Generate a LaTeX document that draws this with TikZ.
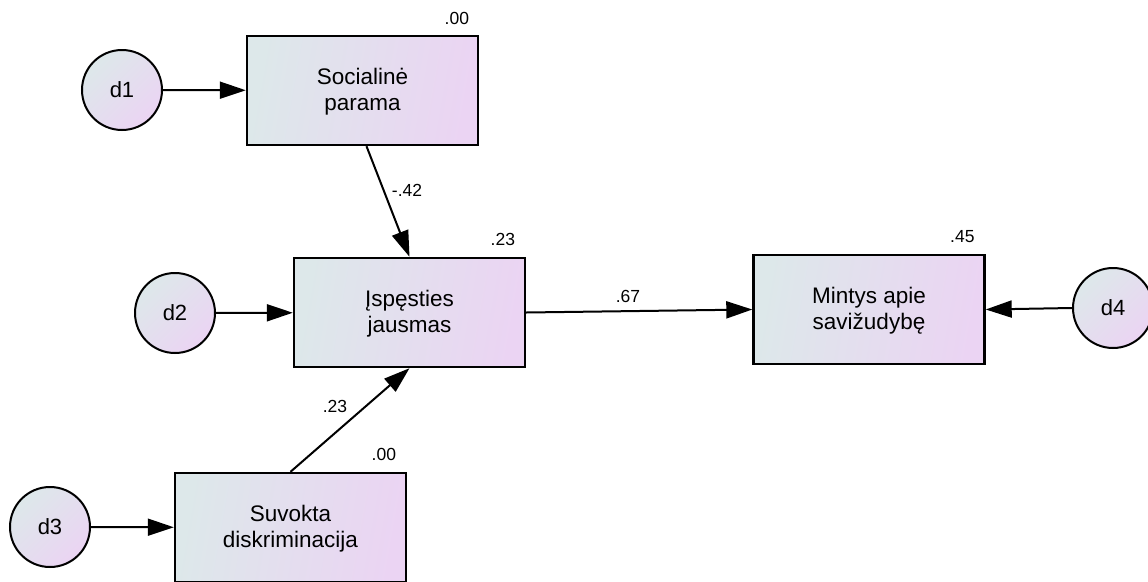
\documentclass[tikz,border=0pt]{standalone}
\usepackage{fontspec}
\setmainfont{Liberation Sans}
\usetikzlibrary{arrows.meta,calc}
\definecolor{gA}{RGB}{221,232,234}
\definecolor{gB}{RGB}{235,212,243}
\tikzset{
  var/.style={draw=black, line width=2.4pt, minimum width=231pt, minimum height=109pt, inner sep=0pt,
    left color=gA, right color=gB, shading angle=80, align=center, font=\fontsize{22.5}{25.5}\selectfont},
  err/.style={draw=black, line width=2pt, circle, minimum size=80pt, inner sep=0pt,
    left color=gA, right color=gB, shading angle=45, font=\fontsize{22}{25}\selectfont},
  path/.style={line width=2pt, -{Triangle[length=26pt,width=17pt]}},
  coef/.style={font=\fontsize{17.5}{19}\selectfont, inner sep=0pt},
}
\begin{document}
\begin{tikzpicture}[x=1pt,y=-1pt]
\useasboundingbox (0,0) rectangle (1148,581);
\node[var] (soc) at (362.5,90.5) {\rule{0pt}{19pt}Socialinė\\parama};
\node[var] (isp) at (409.5,312.5) {\rule{0pt}{19pt}Įspęsties\\jausmas};
\node[var] (min) at (869,309.5) {\rule{0pt}{19pt}Mintys apie\\savižudybę};
\node[var] (suv) at (290.5,527.5) {\rule{0pt}{19pt}Suvokta\\diskriminacija};
\node[err] (d1) at (122,90) {d1};
\node[err] (d2) at (175,313) {d2};
\node[err] (d3) at (50,527) {d3};
\node[err] (d4) at (1113,308) {d4};
\node[coef, anchor=base east] (r1) at ($(soc.north east)+(-10,-10)$) {.00};
\node[coef, anchor=base east] (r2) at ($(isp.north east)+(-11,-11)$) {.23};
\node[coef, anchor=base east] (r3) at ($(min.north east)+(-11,-11)$) {.45};
\node[coef, anchor=base east] (r4) at ($(suv.north east)+(-11,-11)$) {.00};
\draw[path] (d1) -- (soc);
\draw[path] (d2) -- (isp);
\draw[path] (d3) -- (suv);
\draw[path] (d4.west) -- (min.east);
\draw[path] ($(soc.south)+(4,0)$) -- (isp.north);
\draw[path] (suv.north) -- (isp.south);
\draw[path] (isp.east) -- (min.west);
\node[coef] (c1) at (407,190) {-.42};
\node[coef] (c2) at (628,296) {.67};
\node[coef] (c3) at (335,406) {.23};
\end{tikzpicture}
\end{document}
